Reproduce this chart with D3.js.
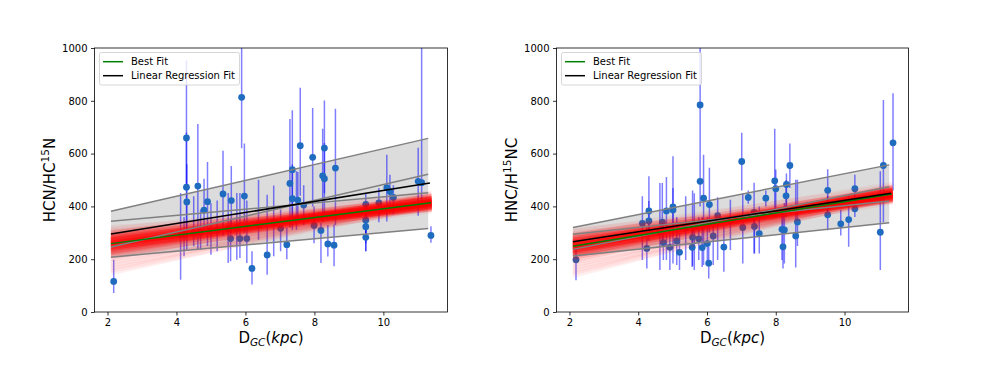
<!DOCTYPE html>
<html><head><meta charset="utf-8">
<script src="https://cdn.jsdelivr.net/npm/d3@7"></script>
<style>body{margin:0;background:#fff;} svg{display:block;font-family:"DejaVu Sans",sans-serif;}</style>
</head><body><svg id="c" width="988" height="369"></svg>
<script>
const xTicks = [2, 4, 6, 8, 10];
const yTicks = [0, 200, 400, 600, 800, 1000];
const legendLabels = ["Best Fit", "Linear Regression Fit"];

// ---- Left panel: HCN/HC15N ----
const hcnX  = [2.18,4.12,4.22,4.29,4.29,4.30,4.50,4.62,4.70,4.80,4.90,5.00,5.18,5.35,5.50,5.59,5.57,5.75,5.84,5.89,5.97,6.04,6.19,6.38,6.63,6.82,7.02,7.20,7.29,7.36,7.36,7.48,7.52,7.59,7.69,7.95,7.99,8.19,8.24,8.29,8.29,8.39,8.57,8.61,9.49,9.49,9.49,9.49,9.87,10.10,10.19,10.29,11.01,11.11,11.38];
const hcnY  = [116,293,294,659,473,417,299,477,302,386,418,307,310,447,316,422,278,320,278,813,439,278,165,330,216,338,317,255,487,539,429,349,424,630,405,586,328,309,516,621,505,258,253,545,408,348,323,283,413,471,456,434,495,490,290];
const hcnLo = [72,122,211,480,300,236,249,236,236,312,250,217,230,290,186,300,192,198,205,620,300,186,104,274,141,211,230,200,320,330,312,312,340,440,330,400,260,186,340,450,360,210,173,330,300,260,230,230,340,343,380,370,365,420,262];
const hcnHi = [198,451,360,953,680,560,438,712,388,505,568,412,422,611,451,553,350,451,451,1100,638,422,230,501,444,479,388,320,731,764,560,533,530,849,480,773,400,337,694,801,640,330,331,770,451,420,400,340,470,596,520,480,622,1100,325];
const hcnBest = [224, 16.67];        // intercept, slope
const hcnReg  = [251.5, 20.9];
const hcnBandInt   = [318.6, 318.6, 183.0, 183.0];
const hcnBandSlope = [30.0, 11.8, 30.0, 11.8];
const hcnRedStart = [259,252,266,245,273,261,257,248,270,240,278,255,263,232,286,238,280,225,292,246,272,218,298,230,288,210,305,200,312,190,226,296,180,318,170,205,160,150];
const hcnRedEnd   = [414,410,418,417,411,404,424,402,426,412,416,430,398,405,423,428,400,418,410,393,436,400,428,438,392,420,405,395,440,410,385,450,400,388,415,445,405,420];

// ---- Right panel: HNC/H15NC ----
const hncX  = [2.19,4.12,4.25,4.31,4.31,4.63,4.70,4.73,4.82,4.92,5.01,5.01,5.12,5.20,5.38,5.57,5.58,5.63,5.76,5.80,5.80,5.86,5.90,6.01,6.05,6.07,6.18,6.31,6.49,6.68,7.01,7.04,7.20,7.37,7.38,7.52,7.71,7.97,8.00,8.18,8.21,8.25,8.30,8.31,8.41,8.58,8.63,9.51,9.51,9.89,10.12,10.30,10.30,11.04,11.13,11.41];
const hncY  = [198,336,241,383,345,303,340,263,383,245,398,386,269,226,319,245,283,324,277,784,495,244,431,259,185,407,288,365,246,347,570,320,434,377,324,297,431,497,467,313,247,311,440,483,555,288,341,461,368,334,350,467,391,302,555,641];
const hncLo = [120,197,165,300,270,159,260,197,197,159,184,300,178,159,197,170,175,159,197,600,400,170,178,197,127,300,178,197,152,235,460,184,410,222,222,222,400,380,360,197,165,184,360,400,470,169,250,380,310,290,247,380,360,159,340,460];
const hncHi = [247,438,320,514,420,489,489,330,511,310,590,470,360,300,438,330,460,450,360,1100,600,360,596,360,247,546,340,435,325,425,679,450,460,490,387,400,460,694,540,387,387,413,500,525,638,501,501,541,440,387,440,520,440,533,803,829];
const hncBest = [204.3, 21.3];
const hncReg  = [224.2, 19.9];
const hncBandInt   = [265.8, 265.8, 183.0, 183.0];
const hncBandSlope = [25.8, 13.7, 25.8, 13.7];
const hncRedStart = [249,242,256,235,263,251,247,238,260,230,268,245,253,222,276,228,270,215,282,236,262,208,288,220,278,200,295,190,302,180,216,286,170,308,160,195,150,140];
const hncRedEnd   = [446,442,450,449,443,436,456,434,458,444,448,462,430,437,455,460,432,450,442,425,468,432,460,470,424,452,437,427,472,442,417,482,432,420,447,477,437,452];

const svg = d3.select("#c");
const plotTop = 48, plotBottom = 312;
const panels = [
  {left: 94.5, right: 447.5, X: hcnX, Y: hcnY, lo: hcnLo, hi: hcnHi, best: hcnBest, reg: hcnReg,
   bi: hcnBandInt, bs: hcnBandSlope, r0: hcnRedStart, r1: hcnRedEnd, label: ["HCN/HC", "15", "N"]},
  {left: 556.5, right: 908.5, X: hncX, Y: hncY, lo: hncLo, hi: hncHi, best: hncBest, reg: hncReg,
   bi: hncBandInt, bs: hncBandSlope, r0: hncRedStart, r1: hncRedEnd, label: ["HNC/H", "15", "NC"]}
];

panels.forEach((p, pi) => {
  const x = d3.scaleLinear().domain([1.623, 11.86]).range([p.left, p.right]);
  const y = d3.scaleLinear().domain([0, 1000]).range([plotBottom, plotTop]);
  const clipId = "clip" + pi;
  svg.append("clipPath").attr("id", clipId).append("rect")
    .attr("x", p.left).attr("y", plotTop).attr("width", p.right - p.left).attr("height", plotBottom - plotTop);
  const g = svg.append("g").attr("clip-path", `url(#${clipId})`);
  const bx = [2.1, 11.3];
  const lineVal = (k, xv) => p.bi[k] + p.bs[k] * xv;
  const area = d3.area().x(d => x(d))
    .y0(d => y(d3.min(p.bi.map((_, k) => lineVal(k, d)))))
    .y1(d => y(d3.max(p.bi.map((_, k) => lineVal(k, d)))));
  g.append("path").datum(bx).attr("d", area).attr("fill", "#d3d3d3").attr("fill-opacity", 0.8);
  // error bars and points
  p.X.forEach((xv, i) => {
    g.append("line").attr("x1", x(xv)).attr("x2", x(xv))
      .attr("y1", y(p.lo[i])).attr("y2", y(p.hi[i]))
      .attr("stroke", "#0000ff").attr("stroke-opacity", 0.5).attr("stroke-width", 1.5);
  });
  p.X.forEach((xv, i) => {
    g.append("circle").attr("cx", x(xv)).attr("cy", y(p.Y[i])).attr("r", 3.4).attr("fill", "#1f6bbf");
  });
  // red sample lines (core samples first, then wider tails)
  const rx = [2.1, 11.4];
  p.r0.forEach((v, i) => {
    const op = i < 13 ? 0.24 : (i < 25 ? 0.17 : 0.06);
    g.append("line").attr("x1", x(rx[0])).attr("x2", x(rx[1]))
      .attr("y1", y(v)).attr("y2", y(p.r1[i]))
      .attr("stroke", "#ff0000").attr("stroke-opacity", op).attr("stroke-width", 6);
  });
  p.bi.forEach((b, k) => {
    g.append("line").attr("x1", x(bx[0])).attr("x2", x(bx[1]))
      .attr("y1", y(lineVal(k, bx[0]))).attr("y2", y(lineVal(k, bx[1])))
      .attr("stroke", "#808080").attr("stroke-width", 1.5);
  });
  const lx = [2.1, 11.38];
  g.append("line").attr("x1", x(lx[0])).attr("x2", x(lx[1]))
    .attr("y1", y(p.best[0] + p.best[1] * lx[0])).attr("y2", y(p.best[0] + p.best[1] * lx[1]))
    .attr("stroke", "#008000").attr("stroke-width", 1.5);
  const kx = [2.1, 11.35];
  g.append("line").attr("x1", x(kx[0])).attr("x2", x(kx[1]))
    .attr("y1", y(p.reg[0] + p.reg[1] * kx[0])).attr("y2", y(p.reg[0] + p.reg[1] * kx[1]))
    .attr("stroke", "#000000").attr("stroke-width", 1.5);

  const ax = svg.append("g").attr("transform", `translate(0,${plotBottom})`)
    .call(d3.axisBottom(x).tickValues(xTicks).tickFormat(d3.format("d")).tickSize(3.5).tickPadding(3.5));
  const ay = svg.append("g").attr("transform", `translate(${p.left},0)`)
    .call(d3.axisLeft(y).tickValues(yTicks).tickFormat(d3.format("d")).tickSize(3.5).tickPadding(3.5));
  [ax, ay].forEach(a => {
    a.select(".domain").remove();
    a.selectAll("text").attr("font-size", 10).attr("font-family", "DejaVu Sans").attr("fill", "#000");
    a.selectAll("line").attr("stroke", "#000").attr("stroke-width", 0.8);
  });
  svg.append("rect").attr("x", p.left).attr("y", plotTop).attr("width", p.right - p.left).attr("height", plotBottom - plotTop)
    .attr("fill", "none").attr("stroke", "#000").attr("stroke-width", 0.8);

  const lg = svg.append("g").attr("transform", `translate(${p.left + 5},52.5)`);
  lg.append("rect").attr("width", 140).attr("height", 32.5).attr("rx", 2)
    .attr("fill", "#fff").attr("fill-opacity", 0.8).attr("stroke", "#cccccc").attr("stroke-width", 0.8);
  const legColors = ["#008000", "#000000"];
  legendLabels.forEach((t, i) => {
    const yy = 9.2 + i * 14;
    lg.append("line").attr("x1", 3.5).attr("x2", 23.5).attr("y1", yy).attr("y2", yy)
      .attr("stroke", legColors[i]).attr("stroke-width", 1.5);
    lg.append("text").attr("x", 31.5).attr("y", yy + 3.6).attr("font-size", 10).text(t);
  });

  const cx = (p.left + p.right) / 2;
  const xl = svg.append("text").attr("x", cx).attr("y", 343).attr("text-anchor", "middle").attr("font-size", 15);
  xl.append("tspan").text("D");
  xl.append("tspan").attr("font-size", 10.5).attr("font-style", "italic").attr("dy", 3).text("GC");
  xl.append("tspan").attr("dy", -3).text("(");
  xl.append("tspan").attr("font-style", "italic").text("kpc");
  xl.append("tspan").text(")");

  const yl = svg.append("text").attr("transform", `translate(${p.left - 40},${(plotTop + plotBottom) / 2}) rotate(-90)`)
    .attr("text-anchor", "middle").attr("font-size", 15);
  yl.append("tspan").text(p.label[0]);
  yl.append("tspan").attr("font-size", 10.5).attr("dy", -6).text(p.label[1]);
  yl.append("tspan").attr("dy", 6).text(p.label[2]);
});
</script></body></html>
